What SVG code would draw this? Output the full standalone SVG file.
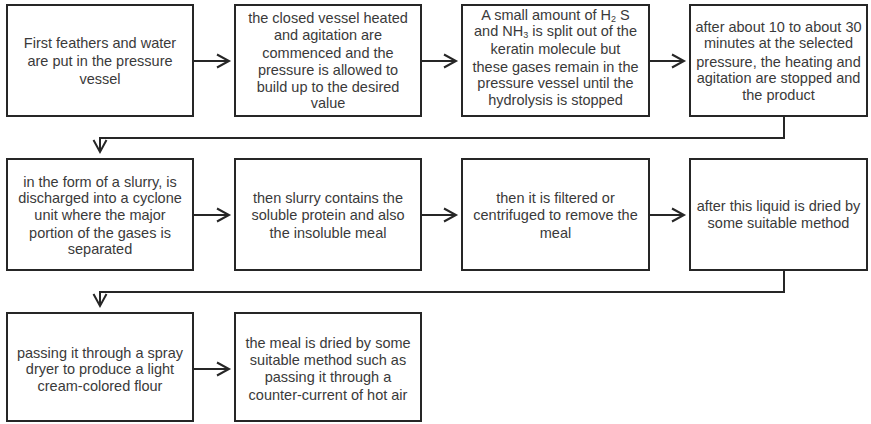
<svg xmlns="http://www.w3.org/2000/svg" width="871" height="424" viewBox="0 0 871 424">
<style>
.box{fill:#fff;stroke:#262626;stroke-width:2}
.t{font-family:"Liberation Sans",Arial,sans-serif;font-size:14.5px;fill:#3a3a3a;text-anchor:middle}
.c{fill:none;stroke:#262626;stroke-width:2}
.sub{font-size:9px}
</style>
<defs>
<marker id="ah" markerUnits="userSpaceOnUse" markerWidth="20" markerHeight="20" refX="0" refY="0" viewBox="-14 -10 16 20" orient="auto" overflow="visible">
<path d="M-12,-6.5 L0,0 L-12,6.5" fill="none" stroke="#262626" stroke-width="2"/>
</marker>
</defs>
<rect width="871" height="424" fill="#fff"/>
<g id="connectors">
<path class="c" d="M193,61 H229" marker-end="url(#ah)"/>
<path class="c" d="M421,61 H456" marker-end="url(#ah)"/>
<path class="c" d="M649,61 H684" marker-end="url(#ah)"/>
<path class="c" d="M784,116 V138 H100 V152" marker-end="url(#ah)"/>
<path class="c" d="M193,215 H229" marker-end="url(#ah)"/>
<path class="c" d="M421,215 H456" marker-end="url(#ah)"/>
<path class="c" d="M649,215 H684" marker-end="url(#ah)"/>
<path class="c" d="M784,270 V292 H100 V306" marker-end="url(#ah)"/>
<path class="c" d="M193,369 H229" marker-end="url(#ah)"/>
</g>
<g id="n1"><rect class="box" x="7" y="5" width="186" height="111"/>
<text class="t"><tspan x="100" y="48">First feathers and water</tspan><tspan x="100" y="66">are put in the pressure</tspan><tspan x="100" y="84">vessel</tspan></text></g>
<g id="n2"><rect class="box" x="235" y="5" width="186" height="111"/>
<text class="t"><tspan x="328" y="23">the closed vessel heated</tspan><tspan x="328" y="40">and agitation are</tspan><tspan x="328" y="58">commenced and the</tspan><tspan x="328" y="75">pressure is allowed to</tspan><tspan x="328" y="92">build up to the desired</tspan><tspan x="328" y="108">value</tspan></text></g>
<g id="n3"><rect class="box" x="462" y="5" width="187" height="111"/>
<text class="t"><tspan x="555.5" y="20">A small amount of H<tspan class="sub" dy="2">2</tspan><tspan dy="-2"> S</tspan></tspan><tspan x="555.5" y="36">and NH<tspan class="sub" dy="2">3</tspan><tspan dy="-2"> is split out of the</tspan></tspan><tspan x="555.5" y="54">keratin molecule but</tspan><tspan x="555.5" y="72">these gases remain in the</tspan><tspan x="555.5" y="88">pressure vessel until the</tspan><tspan x="555.5" y="105">hydrolysis is stopped</tspan></text></g>
<g id="n4"><rect class="box" x="690" y="5" width="177" height="111"/>
<text class="t"><tspan x="778.5" y="32">after about 10 to about 30</tspan><tspan x="778.5" y="48">minutes at the selected</tspan><tspan x="778.5" y="67">pressure, the heating and</tspan><tspan x="778.5" y="83">agitation are stopped and</tspan><tspan x="778.5" y="100">the product</tspan></text></g>
<g id="n5"><rect class="box" x="7" y="159" width="186" height="111"/>
<text class="t"><tspan x="100" y="187">in the form of a slurry, is</tspan><tspan x="100" y="203">discharged into a cyclone</tspan><tspan x="100" y="220">unit where the major</tspan><tspan x="100" y="238">portion of the gases is</tspan><tspan x="100" y="254">separated</tspan></text></g>
<g id="n6"><rect class="box" x="235" y="159" width="186" height="111"/>
<text class="t"><tspan x="328" y="203">then slurry contains the</tspan><tspan x="328" y="220">soluble protein and also</tspan><tspan x="328" y="238">the insoluble meal</tspan></text></g>
<g id="n7"><rect class="box" x="462" y="159" width="187" height="111"/>
<text class="t"><tspan x="555.5" y="203">then it is filtered or</tspan><tspan x="555.5" y="220">centrifuged to remove the</tspan><tspan x="555.5" y="238">meal</tspan></text></g>
<g id="n8"><rect class="box" x="690" y="159" width="177" height="111"/>
<text class="t"><tspan x="778.5" y="211">after this liquid is dried by</tspan><tspan x="778.5" y="228">some suitable method</tspan></text></g>
<g id="n9"><rect class="box" x="7" y="313" width="186" height="108"/>
<text class="t"><tspan x="100" y="358">passing it through a spray</tspan><tspan x="100" y="374">dryer to produce a light</tspan><tspan x="100" y="391">cream-colored flour</tspan></text></g>
<g id="n10"><rect class="box" x="235" y="313" width="186" height="108"/>
<text class="t"><tspan x="328" y="348">the meal is dried by some</tspan><tspan x="328" y="365">suitable method such as</tspan><tspan x="328" y="382">passing it through a</tspan><tspan x="328" y="400">counter-current of hot air</tspan></text></g>
</svg>
